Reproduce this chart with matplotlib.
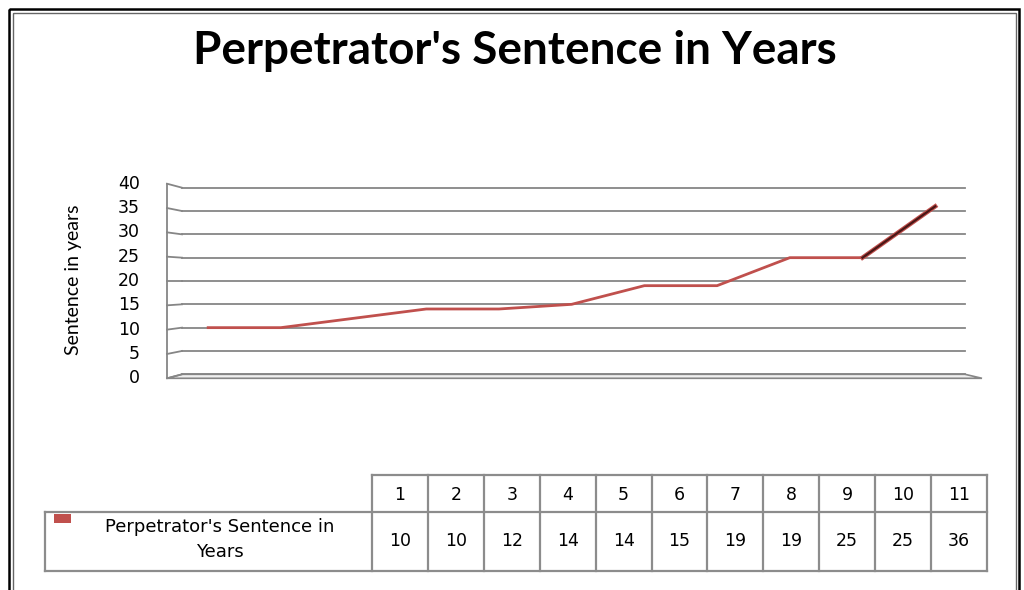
import matplotlib.pyplot as plt
from matplotlib.patches import Rectangle, Polygon

# chart data
cases = [1, 2, 3, 4, 5, 6, 7, 8, 9, 10, 11]
sentence = [10, 10, 12, 14, 14, 15, 19, 19, 25, 25, 36]
y_ticks = [0, 5, 10, 15, 20, 25, 30, 35, 40]
series_name = "Perpetrator's Sentence in Years"
title = "Perpetrator's Sentence in Years"
y_label = "Sentence in years"

W, H = 1024, 590
RED = '#C0504D'
GRID = '#868686'
NARROW = ['Lato', 'DejaVu Sans']

fig = plt.figure(figsize=(W / 100, H / 100), dpi=100)

# background layer in pixel coords (y down)
bg = fig.add_axes([0, 0, 1, 1])
bg.set_xlim(0, W)
bg.set_ylim(H, 0)
bg.axis('off')

# outer double border (bottom runs off the picture)
bg.add_patch(Rectangle((9, 9), 1010, 600, fill=False, ec='black', lw=1.8))
bg.add_patch(Rectangle((12.5, 12.5), 1003, 600, fill=False, ec='#666666', lw=1))

# plot area
ax = fig.add_axes([182 / W, 1 - 374.3 / H, (965 - 182) / W, (374.3 - 187.7) / H])
ax.patch.set_alpha(0)
ax.set_xlim(0.64, 11.41)
ax.set_ylim(0, 40)
for s in ax.spines.values():
    s.set_visible(False)
ax.set_xticks([])
ax.set_yticks([])
for v in y_ticks:
    ax.axhline(v, color=GRID, lw=1.3, zorder=1, clip_on=False)


def px(x, y):
    p = ax.transData.transform((x, y))
    return p[0], H - p[1]


# side wall + tick labels (3d look)
x_min = ax.get_xlim()[0]
fronts = []
for v in y_ticks:
    x0, y0 = px(x_min, v)
    d = 4 - 8 * v / y_ticks[-1]
    fronts.append((x0 - 15, y0 + d))
    bg.plot([x0 - 15, x0], [y0 + d, y0], color=GRID, lw=1.3)
    bg.text(x0 - 42, y0 + d, str(v), ha='right', va='center', fontsize=12.5,
            family='DejaVu Sans')
bg.plot([fronts[0][0], fronts[-1][0]], [fronts[0][1], fronts[-1][1]], color=GRID, lw=1.3)

# floor
xb0, yb = px(x_min, 0)
xb1, _ = px(ax.get_xlim()[1], 0)
bg.add_patch(Polygon([fronts[0], (xb0, yb), (xb1, yb), (xb1 + 17, fronts[0][1])],
                     closed=True, fc='#f0f0f0', ec=GRID, lw=1.2))

bg.text(73, 280, y_label, rotation=90, ha='center', va='center', fontsize=14,
        family=NARROW)

# the series
ax.plot(cases, sentence, color=RED, lw=2, zorder=3)
ax.plot(cases[-2:], sentence[-2:], color=RED, lw=3.2, zorder=3)
ax.plot(cases[-2:], sentence[-2:], color='#4a1716', lw=1.6, zorder=4)

# title
fig.text(515 / W, 1 - 51 / H, title, ha='center', va='center', fontsize=33,
         fontweight='bold', family=NARROW)

# data table
tl, tr = 372, 987
r0, r1, r2 = 475, 512, 571
leg_l = 45
col_w = (tr - tl) / len(cases)
tc = '#8c8c8c'
bg.plot([tl, tr], [r0, r0], color=tc, lw=1.6)
bg.plot([leg_l, tr], [r1, r1], color=tc, lw=1.6)
bg.plot([leg_l, tr], [r2, r2], color=tc, lw=1.6)
bg.plot([leg_l, leg_l], [r1, r2], color=tc, lw=1.6)
for i in range(len(cases) + 1):
    xx = tl + i * col_w
    bg.plot([xx, xx], [r0, r2], color=tc, lw=1.6)
for i, (c, v) in enumerate(zip(cases, sentence)):
    cx = tl + (i + 0.5) * col_w
    bg.text(cx, (r0 + r1) / 2 + 1, str(c), ha='center', va='center', fontsize=12.5,
            family='DejaVu Sans')
    bg.text(cx, (r1 + r2) / 2, str(v), ha='center', va='center', fontsize=12.5,
            family='DejaVu Sans')

# legend cell
bg.add_patch(Rectangle((54, 514), 17, 9, fc=RED, ec='none'))
first, last = series_name.rsplit(' ', 1)
bg.text(220, 527, first, ha='center', va='center', fontsize=13, family='DejaVu Sans')
bg.text(220, 552, last, ha='center', va='center', fontsize=13, family='DejaVu Sans')

fig.savefig('out.png', dpi=100)
